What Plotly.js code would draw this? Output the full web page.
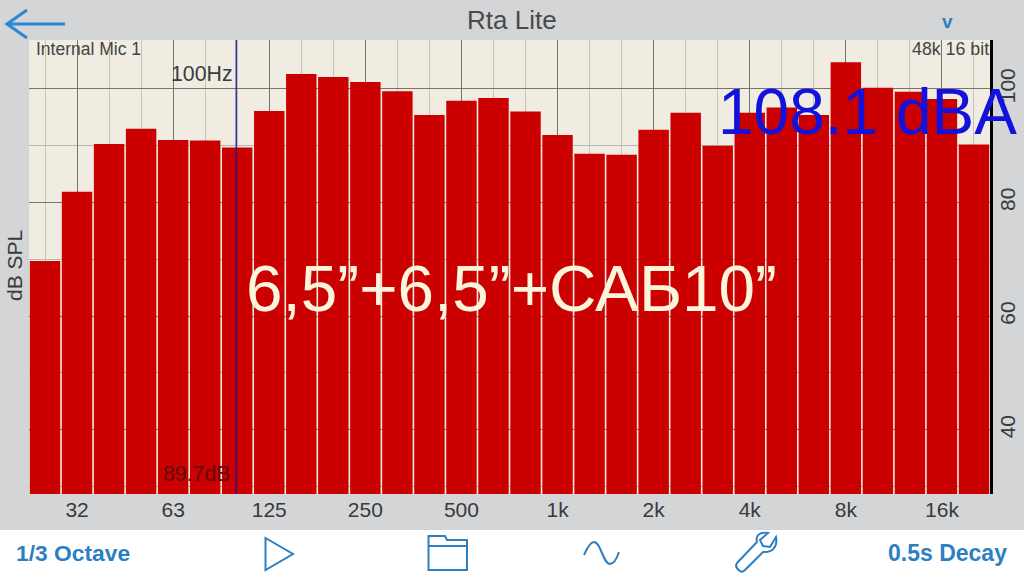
<!DOCTYPE html>
<html><head><meta charset="utf-8">
<script src="https://cdn.plot.ly/plotly-3.0.1.min.js"></script>
<style>html,body{margin:0;padding:0;background:#d3d5d7;overflow:hidden}#c{width:1024px;height:576px}</style>
</head><body><div id="c"></div>
<script>
const bands = ["25","32","40","50","63","80","100","125","160","200","250","315","400","500","630","800","1k","1.25k","1.6k","2k","2.5k","3.15k","4k","5k","6.3k","8k","10k","12.5k","16k","20k"];
const levels = [69.7,81.9,90.3,93.0,91.0,90.9,89.7,96.1,102.6,102.1,101.2,99.6,95.4,97.9,98.4,96.0,91.9,88.6,88.4,92.8,95.8,90.0,95.8,96.7,95.4,104.7,100.2,99.5,98.2,90.2];
const labelledBands = ["32","63","125","250","500","1k","2k","4k","8k","16k"];
const dbTicks = [40,60,80,100];
const dbMinor = [30,50,70,90];
const cursorBand = "100";

const W=1024,H=576,L=29,R=34,T=40,B=82;
const pw=W-L-R, ph=H-T-B;
const px=x=>(x-L)/pw, py=y=>1-(y-T)/ph;
const P=(s)=>s.replace(/(-?[\d.]+) (-?[\d.]+)/g,(m,a,b)=>px(+a)+' '+py(+b));
const blue='#2e7fc1';
function icon(path,w,color){return {type:'path',xref:'paper',yref:'paper',path:P(path),line:{color:color||blue,width:w||2},layer:'above'};}
function txt(t,x,y,size,color,anchor,extra){return Object.assign({text:t,xref:'paper',yref:'paper',x:px(x),y:py(y),xanchor:anchor||'left',yanchor:'middle',showarrow:false,font:{family:'Liberation Sans, Arial, sans-serif',size:size,color:color}},extra||{});}
const cursorPos=bands.indexOf(cursorBand)-0.03;
const shapes=[
 {type:'rect',xref:'paper',yref:'paper',x0:px(0),x1:px(W),y0:py(530),y1:py(H),fillcolor:'#ffffff',line:{width:0},layer:'below'},
 {type:'line',xref:'x',yref:'paper',x0:cursorPos,x1:cursorPos,y0:0,y1:1,line:{color:'rgba(20,20,150,0.85)',width:1.5},layer:'above'},
 icon('M 65 24 L 7 24 M 27 10 L 7 24 L 27 38',3,'#2b86d6'),
 icon('M 265.5 538 L 293 554 L 265.5 570 Z',2),
 icon('M 428.5 570 L 428.5 536 L 445 536 L 447 540 L 467 540 L 467 570 Z M 428.5 546 L 467 546',2),
 icon('M 584 555 C 588 546 591 542 594 542 C 601 542 603 564 610 564 C 614 564 617 558 619 552',2),
 icon('M 740 571 C 737 569 735 566 737 563 L 757 542 C 755 535 760 532 768 533 L 760 540 L 763 546 L 770 547 L 776 537 C 778 547 772 553 763 552 L 745 570 C 743 572 741 572 740 571 Z',2)
];
const bold=(size,color)=>({font:{family:'Liberation Sans',size:size,color:color,weight:700}});
const annotations=[
 txt('Rta Lite',512,20,26,'#4a4a4a','center'),
 txt('v',947,21,18,blue,'center',bold(19,blue)),
 txt('Internal Mic 1',34,49,17.5,'#444444'),
 txt('48k 16 bit',991,49,17.8,'#444444','right'),
 txt('100Hz',235,74,21.3,'#3c3c3c','right'),
 txt('89.7dB',233,474,21.3,'#650a0a','right'),
 txt('108.1 dBA',716,112,64,'#1212dc'),
 txt('6,5”+6,5”+САБ10”',244,288,65.7,'#fbf5dc'),
 txt('dB SPL',14,266,21,'#3a3a3a','center',{textangle:-90}),
 txt('1/3 Octave',14,553,22.8,blue,'left',bold(22.8,blue)),
 txt('0.5s Decay',1009,553,23,blue,'right',bold(23,blue))
];
const data=[{type:'bar',x:bands,y:levels,marker:{color:'#cb0000',line:{width:0}},hoverinfo:'skip'}];
const layout={
 width:W,height:H,margin:{l:L,r:R,t:T,b:B,pad:0},
 paper_bgcolor:'#d3d5d7',plot_bgcolor:'#f0ece2',showlegend:false,bargap:0.05,
 font:{family:'Liberation Sans, Arial, sans-serif'},
 xaxis:{type:'category',categoryorder:'array',categoryarray:bands,range:[-0.5,29.5],tickmode:'array',tickvals:labelledBands,ticktext:labelledBands,
   ticks:'',ticklen:0,ticklabelstandoff:1,showgrid:true,gridcolor:'#77746c',gridwidth:1,zeroline:false,showline:false,tickfont:{size:21,color:'#3a3a3a'},
   minor:{tickmode:'array',tickvals:bands.filter(b=>!labelledBands.includes(b)),showgrid:true,gridcolor:'#c4c2ba',gridwidth:1,ticks:''}},
 yaxis:{side:'right',range:[28.7,108.6],tickmode:'array',tickvals:dbTicks,ticktext:dbTicks.map(String),tickangle:-90,
   ticks:'',showgrid:true,gridcolor:'#77746c',gridwidth:1,zeroline:false,showline:true,linecolor:'#000000',linewidth:3,
   tickfont:{size:21,color:'#3a3a3a'},ticklabelstandoff:-3,
   minor:{tickmode:'array',tickvals:dbMinor,showgrid:true,gridcolor:'#b9b7af',gridwidth:1,ticks:''}},
 shapes:shapes,annotations:annotations
};
Plotly.newPlot('c',data,layout,{displayModeBar:false,staticPlot:true});
</script></body></html>
